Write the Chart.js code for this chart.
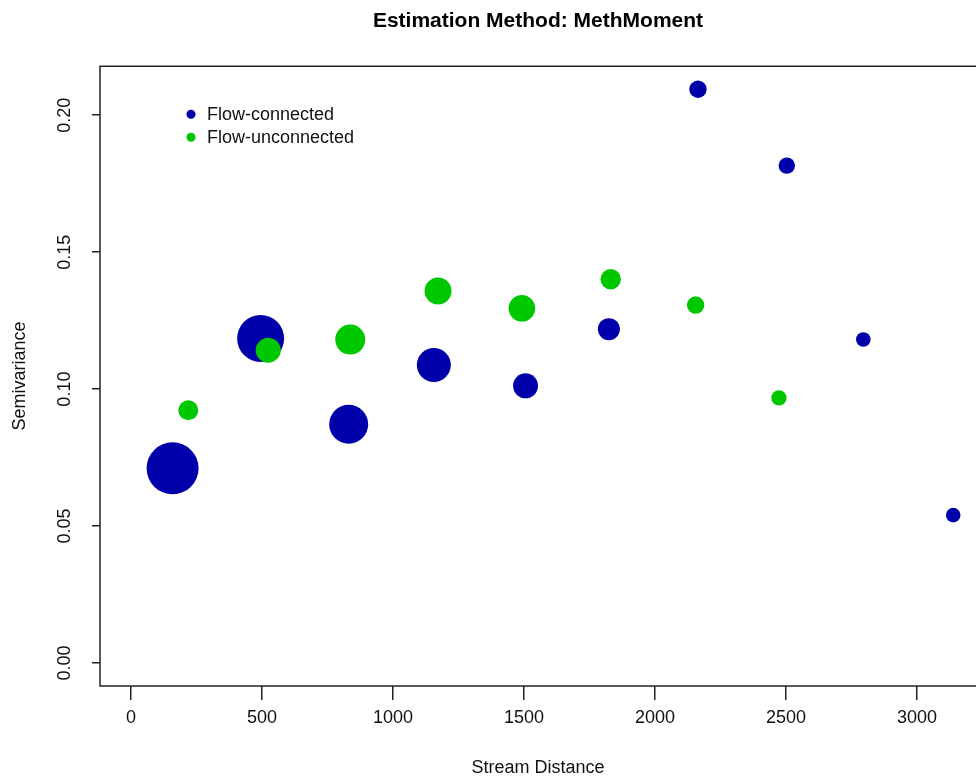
<!DOCTYPE html>
<html>
<head>
<meta charset="utf-8">
<script src="https://cdn.jsdelivr.net/npm/chart.js@4.4.1/dist/chart.umd.min.js"></script>
<style>
  html, body { margin: 0; padding: 0; background: #fff; overflow: hidden; }
  #chart { display: block; }
</style>
</head>
<body>
<canvas id="chart" width="976" height="780"></canvas>
<script>
// distances / semivariances, npairs scales the bubble
var connDist = [159, 495, 831, 1156, 1506, 1824, 2164, 2503, 2795, 3138];
var connGamma = [0.0711, 0.1185, 0.0872, 0.1088, 0.1012, 0.1219, 0.2095, 0.1816, 0.1181, 0.0540];
var connPairs = [260, 235, 195, 170, 125, 110, 87, 82, 73, 73];

var unconnDist = [219, 524, 837, 1172, 1492, 1831, 2155, 2473];
var unconnGamma = [0.0923, 0.1142, 0.1181, 0.1358, 0.1295, 0.1401, 0.1307, 0.0968];
var unconnPairs = [100, 125, 150, 135, 133, 102, 87, 77];

var xTicks = [0, 500, 1000, 1500, 2000, 2500, 3000];
var yTicks = [0, 0.05, 0.10, 0.15, 0.20];

var BLUE = '#0000AA';
var GREEN = '#00C800';
var FONT = "'Liberation Sans', Arial, sans-serif";

function bubbles(xs, ys, ns) {
    return xs.map(function (x, i) {
        return {x: x, y: ys[i], r: ns[i] / 10};
    });
}

// box around the plot region (its right side runs off the picture) plus the legend inside it
var framePlugin = {
    id: 'frame',
    afterDraw: function (chart) {
        var ctx = chart.ctx, a = chart.chartArea;
        ctx.save();
        ctx.strokeStyle = '#222';
        ctx.lineWidth = 1.5;
        ctx.beginPath();
        ctx.moveTo(chart.width + 2, a.top);
        ctx.lineTo(a.left, a.top);
        ctx.lineTo(a.left, a.bottom);
        ctx.lineTo(chart.width + 2, a.bottom);
        ctx.stroke();
        var items = [['Flow-connected', BLUE], ['Flow-unconnected', GREEN]];
        ctx.font = '18px ' + FONT;
        ctx.textBaseline = 'middle';
        items.forEach(function (it, i) {
            var y = a.top + 48 + i * 23;
            ctx.fillStyle = it[1];
            ctx.beginPath();
            ctx.arc(a.left + 91, y, 4.5, 0, Math.PI * 2);
            ctx.fill();
            ctx.fillStyle = '#111';
            ctx.fillText(it[0], a.left + 107, y + 1);
        });
        ctx.restore();
    }
};

new Chart('chart', {
    type: 'bubble',
    data: {
        datasets: [{
            label: 'Flow-unconnected',
            data: bubbles(unconnDist, unconnGamma, unconnPairs),
            backgroundColor: GREEN,
            borderWidth: 0
        }, {
            label: 'Flow-connected',
            data: bubbles(connDist, connGamma, connPairs),
            backgroundColor: BLUE,
            borderWidth: 0
        }]
    },
    plugins: [framePlugin],
    options: {
        responsive: false,
        animation: false,
        devicePixelRatio: 1,
        layout: { padding: 0, autoPadding: false },
        plugins: {
            legend: { display: false },
            tooltip: { enabled: false },
            title: {
                display: true,
                fullSize: false,
                text: 'Estimation Method: MethMoment',
                color: '#000',
                font: { family: FONT, size: 21, weight: 'bold' },
                padding: { top: 9, bottom: 32 }
            }
        },
        scales: {
            x: {
                type: 'linear',
                min: -118,
                max: 3225,
                afterBuildTicks: function (s) {
                    s.ticks = xTicks.map(function (v) { return {value: v}; });
                },
                afterFit: function (s) { s.height = 94; },
                grid: { drawOnChartArea: false, drawTicks: true, tickLength: 14, color: '#222', lineWidth: 1.5 },
                border: { display: false },
                ticks: {
                    color: '#111',
                    padding: 7,
                    maxRotation: 0,
                    font: { family: FONT, size: 18 },
                    callback: function (v) { return String(v); }
                },
                title: {
                    display: true,
                    text: 'Stream Distance',
                    color: '#111',
                    font: { family: FONT, size: 18 },
                    padding: { top: 0, bottom: 1 }
                }
            },
            y: {
                type: 'linear',
                min: -0.0084,
                max: 0.2179,
                afterBuildTicks: function (s) {
                    s.ticks = yTicks.map(function (v) { return {value: v}; });
                },
                afterFit: function (s) { s.width = 100; },
                grid: { drawOnChartArea: false, drawTicks: true, tickLength: 8, color: '#222', lineWidth: 1.5 },
                border: { display: false },
                ticks: {
                    color: '#111',
                    padding: 9,
                    minRotation: 90,
                    maxRotation: 90,
                    crossAlign: 'center',
                    font: { family: FONT, size: 18 },
                    callback: function (v) { return v.toFixed(2); }
                },
                title: {
                    display: true,
                    text: 'Semivariance',
                    color: '#111',
                    font: { family: FONT, size: 18 },
                    padding: 9
                }
            }
        }
    }
});
</script>
</body>
</html>
